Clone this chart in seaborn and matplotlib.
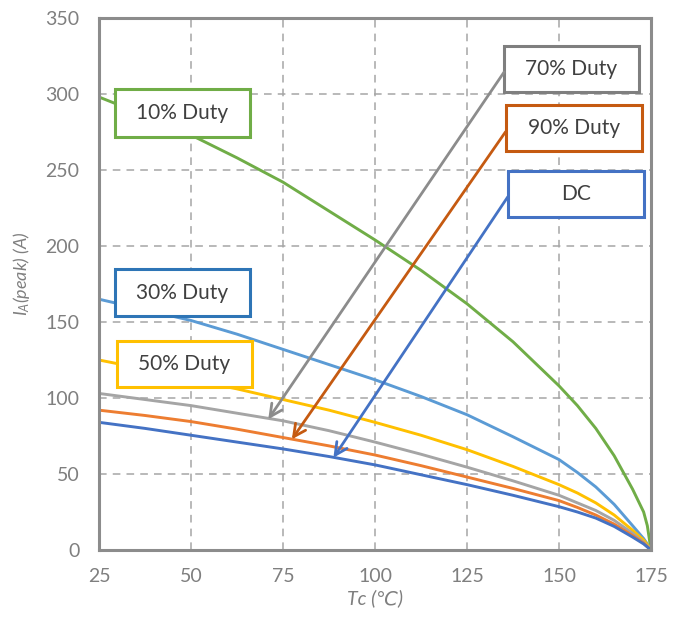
import matplotlib
matplotlib.use("Agg")
import matplotlib.pyplot as plt
from matplotlib.patches import Rectangle
import seaborn as sns
import pandas as pd

# ---- data ----
tc = [25, 37.5, 50, 62.5, 75, 87.5, 100, 112.5, 125, 137.5, 150, 155, 160, 165, 170, 173, 174, 175]
duty10 = [298, 286, 273, 258, 242, 223, 204, 184, 162, 137, 108, 95, 80, 62, 40, 25, 16, 0]
duty30 = [165, 158, 151, 142, 132, 122, 112, 101, 89, 74.5, 59.5, 51, 41.5, 30, 16, 7.5, 4, 0]
duty50 = [125, 119, 112, 106, 99, 92, 84, 75.5, 66, 55, 43, 37.5, 31, 23, 13, 6.5, 3.5, 0]
duty70 = [103, 99, 95, 90, 85, 78.5, 71, 63, 54.5, 45.5, 36, 31, 26, 19.5, 11, 5, 2.5, 0]
duty90 = [92, 88.5, 84.5, 79.5, 74, 68.5, 62.5, 55.5, 48, 40.5, 32.5, 28, 23, 17, 9.5, 4.5, 2.2, 0]
dc = [84, 80, 75.5, 71, 66.5, 61.5, 56, 49.5, 43, 36, 28.5, 25, 21, 15.5, 8.5, 4, 2, 0]

series_names = ["10% Duty", "30% Duty", "50% Duty", "70% Duty", "90% Duty", "DC"]
series_values = [duty10, duty30, duty50, duty70, duty90, dc]
line_colors = ["#70AD47", "#5B9BD5", "#FFC000", "#A5A5A5", "#ED7D31", "#4472C4"]

x_ticks = [25, 50, 75, 100, 125, 150, 175]
y_ticks = [0, 50, 100, 150, 200, 250, 300, 350]

rows = []
for name, vals in zip(series_names, series_values):
    for t, v in zip(tc, vals):
        rows.append({"Tc": t, "I": v, "series": name})
df = pd.DataFrame(rows)

sns.set_theme(style="white")
plt.rcParams["font.family"] = ["Lato", "DejaVu Sans"]
plt.rcParams["mathtext.fontset"] = "custom"
plt.rcParams["mathtext.it"] = "Lato:italic"
plt.rcParams["mathtext.rm"] = "Lato"

fig = plt.figure(figsize=(6.81, 6.22), dpi=100)
ax = fig.add_axes([99 / 681, 1 - 550 / 622, (651 - 99) / 681, (550 - 18) / 622])

# grid
for xv in x_ticks[1:-1]:
    ax.axvline(xv, color="#A6A6A6", lw=1.1, ls=(0, (5, 4)), zorder=0)
for yv in y_ticks[1:-1]:
    ax.axhline(yv, color="#A6A6A6", lw=1.1, ls=(0, (5, 4)), zorder=0)

sns.lineplot(data=df, x="Tc", y="I", hue="series", hue_order=series_names,
             palette=dict(zip(series_names, line_colors)), linewidth=2.1,
             legend=False, ax=ax, zorder=2)

ax.set_xlim(25, 175)
ax.set_ylim(0, 350)
ax.set_xticks(x_ticks)
ax.set_yticks(y_ticks)
ax.tick_params(axis="both", length=0, labelsize=14, labelcolor="#7F7F7F")
ax.tick_params(axis="x", pad=13)
ax.tick_params(axis="y", pad=14)
for sp in ax.spines.values():
    sp.set_color("#8C8C8C")
    sp.set_linewidth(2.2)
    sp.set_visible(True)

ax.set_xlabel("Tc (℃)", fontsize=14, color="#7F7F7F", style="italic", labelpad=3)
ax.set_ylabel(r"$I_A$(peak) (A)", fontsize=13, color="#7F7F7F", style="italic")
ax.yaxis.set_label_coords(-0.121, 0.52)

# annotation boxes (x0, x1, y0, y1) in data coords
boxes = [
    ("10% Duty", (29.3, 66.0, 271.9, 303.1), "#70AD47"),
    ("30% Duty", (29.3, 66.0, 154.1, 184.7), "#2E75B6"),
    ("50% Duty", (29.8, 66.7, 107.4, 137.7), "#FFC000"),
    ("70% Duty", (135.1, 171.7, 301.5, 331.6), "#7F7F7F"),
    ("90% Duty", (135.5, 172.5, 262.7, 292.6), "#C55A11"),
    ("DC", (136.1, 173.1, 219.3, 249.5), "#4472C4"),
]
for label, (x0, x1, y0, y1), col in boxes:
    ax.add_patch(Rectangle((x0, y0), x1 - x0, y1 - y0, facecolor="white",
                           edgecolor=col, lw=2.2, zorder=5))
    ax.text((x0 + x1) / 2, (y0 + y1) / 2, label, ha="center", va="center",
            fontsize=15, color="#404040", zorder=6)

# arrows
arrows = [
    ((135.1, 314.5), (71.0, 86.0), "#8C8C8C"),
    ((135.5, 275.2), (77.4, 72.8), "#C55A11"),
    ((136.1, 232.4), (88.7, 60.7), "#4472C4"),
]
for start, tip, col in arrows:
    ax.annotate("", xy=tip, xytext=start,
                arrowprops=dict(arrowstyle="->", color=col, lw=2.0,
                                mutation_scale=22, shrinkA=0, shrinkB=0),
                zorder=7)

fig.savefig("out.png", dpi=100)
